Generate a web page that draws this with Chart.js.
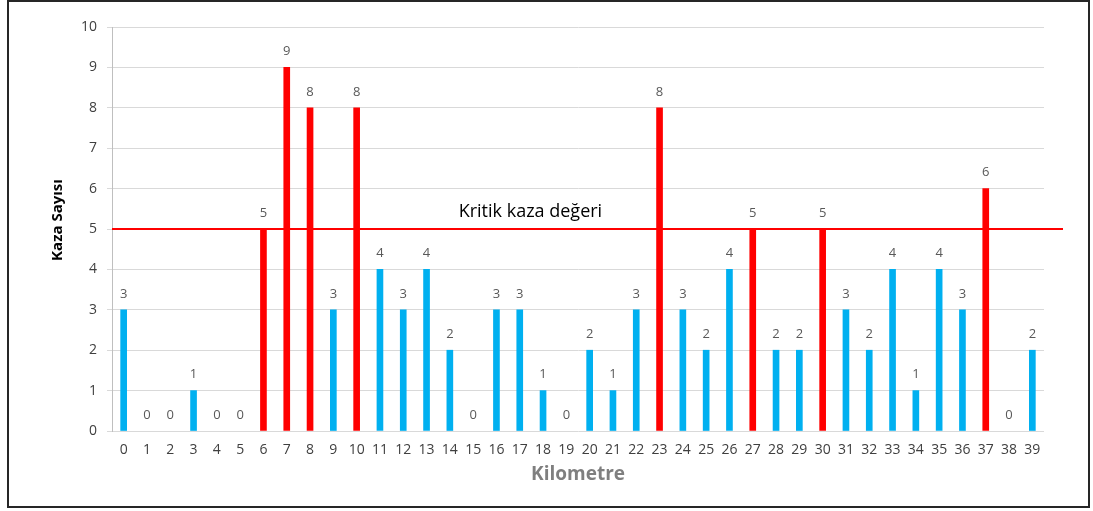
<!DOCTYPE html>
<html>
<head>
<meta charset="utf-8">
<script src="https://cdn.jsdelivr.net/npm/chart.js@4/dist/chart.umd.min.js"></script>
<style>
  html, body { margin: 0; padding: 0; background: #ffffff; }
  #wrap { position: absolute; left: 0; top: 0; width: 1093px; height: 511px; }
</style>
</head>
<body>
<div id="wrap"><canvas id="c" width="1093" height="511"></canvas></div>
<script>
const categories = ['0','1','2','3','4','5','6','7','8','9','10','11','12','13','14','15','16','17','18','19','20','21','22','23','24','25','26','27','28','29','30','31','32','33','34','35','36','37','38','39'];
const accidents = [3,0,0,1,0,0,5,9,8,3,8,4,3,4,2,0,3,3,1,0,2,1,3,8,3,2,4,5,2,2,5,3,2,4,1,4,3,6,0,2];
const criticalValue = 5;
const criticalLabel = 'Kritik kaza değeri';
const yTitle = 'Kaza Sayısı';
const xTitle = 'Kilometre';

const BLUE = '#00B0F0';
const RED = '#FF0000';

const framePlugin = {
  id: 'frame',
  beforeDraw(chart) {
    const ctx = chart.ctx;
    ctx.save();
    ctx.fillStyle = '#ffffff';
    ctx.fillRect(0, 0, chart.width, chart.height);
    ctx.strokeStyle = '#262626';
    ctx.lineWidth = 2;
    ctx.strokeRect(8, 1, 1081, 506);
    ctx.restore();
  }
};

const overlayPlugin = {
  id: 'overlay',
  afterDatasetsDraw(chart) {
    const ctx = chart.ctx;
    const y = chart.scales.y;
    const area = chart.chartArea;
    const yy = Math.round(y.getPixelForValue(criticalValue));
    ctx.save();
    ctx.strokeStyle = RED;
    ctx.lineWidth = 2;
    ctx.beginPath();
    ctx.moveTo(area.left, yy);
    ctx.lineTo(area.right + 19, yy);
    ctx.stroke();
    ctx.fillStyle = '#000000';
    ctx.font = '18px "Open Sans"';
    ctx.textAlign = 'center';
    ctx.textBaseline = 'middle';
    const xs = chart.scales.x;
    const cx = (xs.getPixelForValue(17) + xs.getPixelForValue(18)) / 2 - 1;
    ctx.fillText(criticalLabel, cx, yy - 17);

    // y-axis title
    ctx.save();
    ctx.translate(58, 220);
    ctx.rotate(-Math.PI / 2);
    ctx.font = 'bold 15px "Liberation Sans Narrow", "Open Sans"';
    ctx.fillStyle = '#000000';
    ctx.fillText(yTitle, 0, 0);
    ctx.restore();

    // value labels
    const meta = chart.getDatasetMeta(0);
    ctx.fillStyle = '#595959';
    ctx.font = '13px "Open Sans"';
    ctx.textAlign = 'center';
    ctx.textBaseline = 'middle';
    meta.data.forEach((bar, i) => {
      ctx.fillText(String(accidents[i]), bar.x, bar.y - 16);
    });
    ctx.restore();
  }
};

new Chart(document.getElementById('c'), {
  type: 'bar',
  data: {
    labels: categories,
    datasets: [{
      data: accidents,
      backgroundColor: accidents.map(v => v === 0 ? 'rgba(0,0,0,0)' : (v >= criticalValue ? RED : BLUE)),
      barThickness: 6,
      borderWidth: 0
    }]
  },
  options: {
    responsive: false,
    animation: false,
    devicePixelRatio: 1,
    layout: { padding: { left: 44, right: 49, top: 27, bottom: 21 } },
    plugins: {
      legend: { display: false },
      tooltip: { enabled: false }
    },
    scales: {
      x: {
        type: 'category',
        grid: { display: false, drawTicks: false },
        border: { display: false },
        ticks: {
          color: '#404040',
          font: { family: '"Open Sans"', size: 14 },
          padding: 11,
          autoSkip: false,
          maxRotation: 0
        },
        title: {
          display: true,
          text: xTitle,
          color: '#7F7F7F',
          font: { family: '"Open Sans"', size: 19, weight: 'bold' },
          padding: { top: 4, bottom: 4 }
        },
        afterFit(scale) { scale.height = 59; }
      },
      y: {
        min: 0,
        max: 10,
        grid: { color: '#D9D9D9', lineWidth: 1, drawTicks: true, tickLength: 5 },
        border: { display: true, color: '#BFBFBF' },
        ticks: {
          stepSize: 1,
          color: '#404040',
          font: { family: '"Open Sans"', size: 14 },
          padding: 10
        },
        title: { display: false },
        afterFit(scale) { scale.width = 68; }
      }
    }
  },
  plugins: [framePlugin, overlayPlugin]
});
</script>
</body>
</html>
